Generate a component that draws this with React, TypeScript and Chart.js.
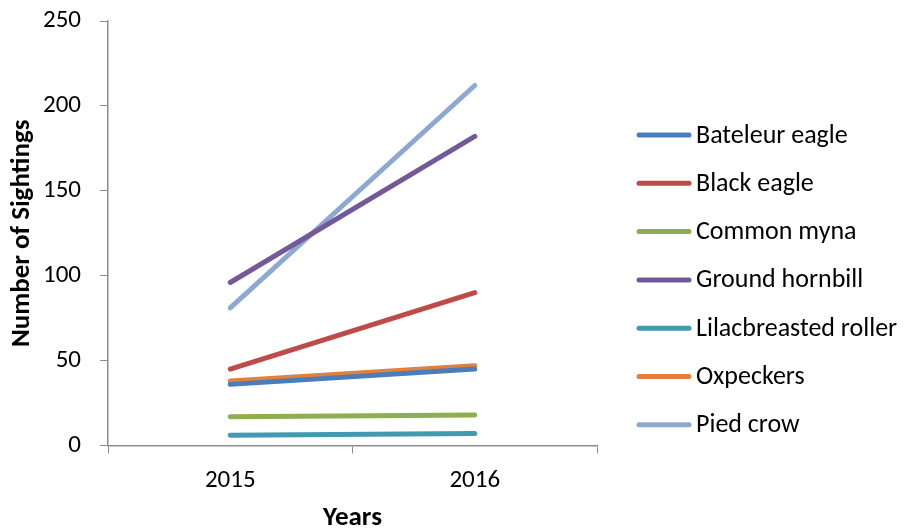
import React, { useEffect, useRef } from "react";
import { Chart, registerables } from "chart.js";

Chart.register(...registerables);

const years = ["2015", "2016"];
const speciesNames = [
  "Bateleur eagle",
  "Black eagle",
  "Common myna",
  "Ground hornbill",
  "Lilacbreasted roller",
  "Oxpeckers",
  "Pied crow",
];
const bateleurEagle = [36, 45];
const blackEagle = [45, 90];
const commonMyna = [17, 18];
const groundHornbill = [96, 182];
const lilacbreastedRoller = [6, 7];
const oxpeckers = [38, 47];
const piedCrow = [81, 212];
const yTicks = [0, 50, 100, 150, 200, 250];

const seriesValues = [
  bateleurEagle,
  blackEagle,
  commonMyna,
  groundHornbill,
  lilacbreastedRoller,
  oxpeckers,
  piedCrow,
];
const seriesColors = [
  "#4A7EBB",
  "#BE4B48",
  "#8FAE50",
  "#72599A",
  "#4299B0",
  "#E0823D",
  "#8EA9D1",
];

const FONT = "Calibri, Carlito, Lato, 'Open Sans', sans-serif";
const AXIS_GREY = "#8c8c8c";

// Legend on the right: short line swatch followed by the series name.
const sideLegend = {
  id: "sideLegend",
  afterDraw(chart: any) {
    const ctx = chart.ctx;
    const x0 = 637;
    const lineLen = 54;
    const top = 135;
    const step = 48.3;
    ctx.save();
    ctx.font = `26px ${FONT}`;
    ctx.textBaseline = "middle";
    ctx.textAlign = "left";
    chart.data.datasets.forEach((ds: any, i: number) => {
      const y = top + i * step;
      ctx.strokeStyle = ds.borderColor;
      ctx.lineWidth = 5;
      ctx.lineCap = "round";
      ctx.beginPath();
      ctx.moveTo(x0 + 2, y);
      ctx.lineTo(x0 + lineLen - 2, y);
      ctx.stroke();
      ctx.fillStyle = "#000";
      ctx.fillText(ds.label, x0 + lineLen + 5, y + 1);
    });
    ctx.restore();
  },
};

export default function App() {
  const canvasRef = useRef<HTMLCanvasElement | null>(null);

  useEffect(() => {
    if (!canvasRef.current) return;
    const chart = new Chart(canvasRef.current, {
      type: "line",
      data: {
        labels: years,
        datasets: speciesNames.map((name, i) => ({
          label: name,
          data: seriesValues[i],
          borderColor: seriesColors[i],
          backgroundColor: seriesColors[i],
          borderWidth: 5,
          borderCapStyle: "round" as const,
          pointRadius: 0,
          tension: 0,
        })),
      },
      options: {
        animation: false,
        responsive: false,
        maintainAspectRatio: false,
        layout: { padding: { top: 21, right: 309, bottom: 0, left: 0 } },
        plugins: {
          legend: { display: false },
          tooltip: { enabled: false },
        },
        scales: {
          x: {
            type: "category",
            offset: true,
            grid: {
              offset: true,
              drawOnChartArea: false,
              drawTicks: true,
              tickLength: 8,
              color: AXIS_GREY,
            },
            border: { display: true, color: AXIS_GREY, width: 1.5 },
            ticks: {
              color: "#000",
              font: { family: FONT, size: 25 },
              padding: 12,
              maxRotation: 0,
            },
            title: {
              display: true,
              text: "Years",
              color: "#000",
              font: { family: FONT, size: 27, weight: "bold" },
              padding: { top: 8, bottom: -4 },
            },
            afterFit(scale: any) {
              scale.height = 84.5;
              scale.paddingLeft = 0;
              scale.paddingRight = 0;
            },
          },
          y: {
            min: 0,
            max: 250,
            afterBuildTicks(scale: any) {
              scale.ticks = yTicks.map((v) => ({ value: v }));
            },
            grid: {
              drawOnChartArea: false,
              drawTicks: true,
              tickLength: 8,
              color: AXIS_GREY,
            },
            border: { display: true, color: AXIS_GREY, width: 1.5 },
            ticks: {
              color: "#000",
              font: { family: FONT, size: 25 },
              padding: 19,
            },
            title: {
              display: true,
              text: "Number of Sightings",
              color: "#000",
              font: { family: FONT, size: 27, weight: "bold" },
              padding: { top: 6, bottom: 0 },
            },
            afterFit(scale: any) {
              scale.width = 108;
              scale.paddingTop = 0;
              scale.paddingBottom = 0;
            },
          },
        },
      },
      plugins: [sideLegend],
    });
    return () => chart.destroy();
  }, []);

  return (
    <div style={{ position: "absolute", left: 0, top: 0, width: 906, height: 530, background: "#fff" }}>
      <canvas ref={canvasRef} width={906} height={530} />
    </div>
  );
}
